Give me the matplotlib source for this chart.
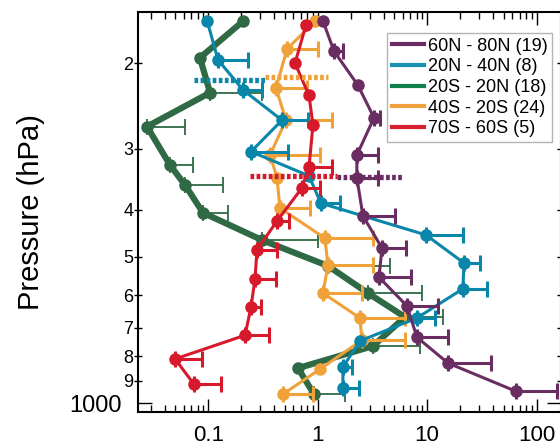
import numpy as np
import matplotlib
matplotlib.use('Agg')
import matplotlib.pyplot as plt
from matplotlib.lines import Line2D
from matplotlib.ticker import NullFormatter

plt.rcParams['font.family'] = ['Liberation Sans', 'DejaVu Sans']

nan = np.nan

# 60N - 80N
p_pur = [164, 189, 222, 259, 309, 344, 412, 480, 551, 631, 732, 827, 945]
v_pur = [1.12, 1.41, 2.33, 3.27, 2.28, 2.28, 2.59, 3.87, 3.63, 6.54, 8.07, 15.5, 64.7]
hi_pur = [nan, 1.70, nan, 3.70, 3.56, 3.56, 5.08, 6.40, 7.11, 12.6, 15.5, 38.2, 153]

# 20N - 40N
p_blu = [164, 197, 227, 262, 304, 341, 388, 451, 515, 582, 668, 745, 843, 931]
v_blu = [0.098, 0.123, 0.208, 0.472, 0.246, 0.833, 1.07, 9.75, 21.7, 21.2, 8.07, 2.43, 1.70, 1.70]
hi_blu = [nan, 0.231, 0.310, 0.815, 0.535, nan, 1.60, 21.2, 30.3, 35.2, 11.8, nan, 2.06, 2.38]

# 20S - 20N
p_grn = [164, 195, 230, 270, 324, 356, 406, 462, 522, 594, 665, 763, 847, 958]
v_grn = [0.208, 0.084, 0.104, 0.0276, 0.0448, 0.0614, 0.0896, 0.310, 1.24, 2.88, 6.27, 3.20, 0.661, 0.925]
hi_grn = [nan, nan, 0.310, 0.0614, 0.0726, 0.1365, 0.152, 1.006, 4.57, 8.97, 13.9, 8.60, nan, 1.78]

# 40S - 20S
p_org = [164, 187, 225, 262, 309, 344, 397, 458, 520, 594, 668, 742, 851, 958]
v_org = [0.945, 0.525, 0.416, 0.513, 0.367, 0.425, 0.452, 1.166, 1.24, 1.12, 2.43, 2.54, 1.05, 0.482]
hi_org = [nan, 1.006, 0.798, 1.35, 1.05, nan, 0.851, 3.20, 3.20, 2.54, 6.27, 6.27, nan, 0.906]

# 70S - 60S
p_red = [167, 200, 233, 268, 327, 361, 422, 484, 556, 634, 725, 811, 914]
v_red = [0.782, 0.621, 0.833, 0.906, 0.833, 0.719, 0.425, 0.279, 0.2675, 0.246, 0.217, 0.0498, 0.0741]
hi_red = [nan, nan, nan, nan, 1.35, 1.05, 0.547, 0.425, 0.416, 0.303, 0.359, 0.0878, 0.131]

# dotted level markers (blue, orange, red, purple)
trop_p = [217, 214, 341, 342]
trop_x0 = [0.074, 0.33, 0.241, 1.50]
trop_x1 = [0.33, 1.24, 1.50, 5.89]

labels = ['60N - 80N (19)', '20N - 40N (8)', '20S - 20N (18)', '40S - 20S (24)', '70S - 60S (5)']

c_pur = '#6a2d62'
c_blu = '#0a86aa'
c_grn = '#2f6a45'
c_org = '#f0a23a'
c_red = '#d61a2b'
leg_colors = ['#6a2d62', '#1a90b2', '#12804a', '#f2a03d', '#d81f2e']

fig = plt.figure(figsize=(5.6, 4.48), dpi=100)
ax = fig.add_axes([137.5 / 560, (448 - 411.5) / 448, (561 - 137.5) / 560, (411.5 - 12) / 448])


def series(v, p, hi, col, lw, elw, z):
    v = np.array(v)
    p = np.array(p)
    hi = np.array(hi)
    ax.plot(v, p, '-o', color=col, lw=lw, ms=8, zorder=z)
    m = ~np.isnan(hi)
    ax.errorbar(v[m], p[m], xerr=[np.zeros(m.sum()), hi[m] - v[m]], fmt='none',
                ecolor=col, elinewidth=elw, capsize=6, capthick=elw, zorder=z)


series(v_grn, p_grn, hi_grn, c_grn, 4.5, 1.3, 2)
series(v_org, p_org, hi_org, c_org, 2.2, 2.2, 3)
series(v_blu, p_blu, hi_blu, c_blu, 2.2, 2.2, 4)
series(v_pur, p_pur, hi_pur, c_pur, 2.2, 2.2, 5)
series(v_red, p_red, hi_red, c_red, 2.2, 2.2, 6)

trop_cols = [c_blu, c_org, c_red, c_pur]
for i in range(4):
    ax.plot([trop_x0[i], trop_x1[i]], [trop_p[i], trop_p[i]], color=trop_cols[i],
            lw=3.8, ls=(0, (0.7, 0.45)), zorder=7)

ax.set_xscale('log')
ax.set_yscale('log')
ax.set_xlim(0.0226, 167)
ax.set_ylim(1040, 157)

ax.set_xticks([0.1, 1, 10, 100])
ax.set_xticklabels(['0.1', '1', '10', '100'])
ax.xaxis.set_minor_formatter(NullFormatter())
ax.tick_params(axis='x', which='both', direction='in', top=True, bottom=True,
               labelsize=16, pad=10)
ax.tick_params(axis='x', which='major', length=9.5, width=1)
ax.tick_params(axis='x', which='minor', length=5, width=1)

ax.set_yticks([1000])
ax.set_yticklabels(['1000'])
ax.set_yticks([200, 300, 400, 500, 600, 700, 800, 900], minor=True)
ax.set_yticklabels(['2', '3', '4', '5', '6', '7', '8', '9'], minor=True)
ax.tick_params(axis='y', which='both', left=True, right=True)
ax.tick_params(axis='y', which='major', direction='in', length=10, width=1, pad=11,
               labelsize=17)
ax.tick_params(axis='y', which='minor', direction='inout', length=6, width=1, pad=0,
               labelsize=13)

for s in ax.spines.values():
    s.set_linewidth(1.5)

fig.text(31 / 560, 1 - 212 / 448, 'Pressure (hPa)', rotation=90, fontsize=21,
         ha='center', va='center')

handles = [Line2D([], [], color=c, lw=3) for c in leg_colors]
leg = ax.legend(handles, labels, loc='upper right', bbox_to_anchor=(0.979, 0.947),
                borderaxespad=0, fontsize=13, handlelength=1.8, handletextpad=0.2,
                labelspacing=0.2, borderpad=0.25, fancybox=False, framealpha=1)
leg.get_frame().set_edgecolor('#b4b4b4')
leg.get_frame().set_linewidth(1)
leg.set_zorder(10)

fig.savefig('out.png', dpi=100)
